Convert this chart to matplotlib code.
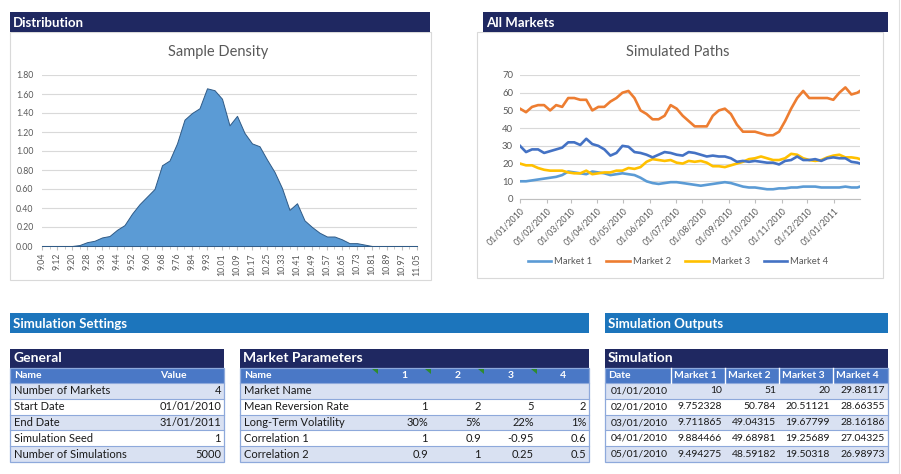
import matplotlib.pyplot as plt
import matplotlib.dates as mdates
from matplotlib.patches import Rectangle, Polygon
import pandas as pd

plt.rcParams['font.family'] = ['Lato', 'DejaVu Sans']

W, H = 901, 474

# ---- Sample Density (one value per half label step) ----
bin_labels = ['9.04', '9.12', '9.20', '9.28', '9.36', '9.44', '9.52', '9.60', '9.68',
              '9.76', '9.84', '9.93', '10.01', '10.09', '10.17', '10.25', '10.33',
              '10.41', '10.49', '10.57', '10.65', '10.73', '10.81', '10.89', '10.97', '11.05']
density = [0, 0, 0, 0, 0, 0.01, 0.04, 0.055, 0.09, 0.105,
           0.17, 0.22, 0.34, 0.44, 0.52, 0.60, 0.85, 0.90, 1.08, 1.33,
           1.40, 1.45, 1.66, 1.64, 1.55, 1.27, 1.37, 1.19, 1.08, 1.05,
           0.91, 0.78, 0.61, 0.38, 0.45, 0.27, 0.20, 0.14, 0.10, 0.10,
           0.07, 0.03, 0.03, 0.015, 0, 0, 0, 0, 0, 0, 0]

# ---- Simulated Paths (weekly readings) ----
path_dates = list(pd.date_range('2010-01-01', '2011-01-28', freq='7D')) + [pd.Timestamp('2011-01-31')]
market1 = [10, 10, 10.5, 11, 11.5, 12, 12.5, 13.5, 15.5, 15,
           14.5, 14, 15.5, 15, 14.5, 13.5, 14, 14.5, 14, 13.5,
           12, 10, 9, 8.5, 9, 9.5, 9.5, 9, 8.5, 8,
           7.5, 8, 8.5, 9, 9.5, 9, 8, 7, 6.5, 6.5,
           6, 5.5, 5.5, 6, 6, 6.5, 6.5, 7, 7, 7,
           6.5, 6.5, 6.5, 6.5, 7, 6.5, 6.5, 7]
market2 = [51, 49, 52, 53, 53, 50, 53, 52, 57, 57,
           56, 56, 50, 52, 52, 55, 57, 60, 61, 57,
           50, 48, 45, 45, 47, 53, 51, 47, 44, 41,
           41, 41, 47, 50, 51, 48, 42, 38, 38, 38,
           37, 36, 36, 38, 44, 51, 57, 61, 57, 57,
           57, 57, 56, 60, 63, 59, 60, 61]
market3 = [20, 19, 19, 17.5, 16.5, 16, 16, 16, 15, 14.5,
           14.5, 16, 14, 14.5, 15, 15, 16, 16, 17.5, 17,
           18, 21, 22.5, 22, 21.5, 22, 20.5, 20, 21.5, 21,
           21.5, 20.5, 18.5, 18.5, 18, 19, 20, 21, 22.5, 23,
           24, 23, 22, 22, 23, 25.5, 25, 23, 22, 21.5,
           22, 23.5, 24.5, 25, 23.5, 23.5, 23, 22.5]
market4 = [30, 26.5, 28, 28, 26, 27, 28, 29, 32, 32,
           30.5, 34, 31, 30, 28, 24.5, 26, 30, 29.5, 26.5,
           26, 25, 23.5, 25, 26.5, 26, 25, 24.5, 26.5, 26,
           25, 24, 24.5, 24, 24, 23, 21, 21.5, 21, 21.5,
           21, 20.5, 20.5, 19.5, 21.5, 22, 24, 22, 22, 22.5,
           21.5, 23, 23.5, 23, 23, 21, 20.5, 20]
market_names = ['Market 1', 'Market 2', 'Market 3', 'Market 4']
market_colors = ['#5B9BD5', '#ED7D31', '#FFC000', '#4472C4']

# ---- Tables ----
general_names = ['Number of Markets', 'Start Date', 'End Date', 'Simulation Seed', 'Number of Simulations']
general_values = ['4', '01/01/2010', '31/01/2011', '1', '5000']

param_cols = ['1', '2', '3', '4']
param_names = ['Market Name', 'Mean Reversion Rate', 'Long-Term Volatility', 'Correlation 1', 'Correlation 2']
param_values = [['', '', '', ''],
                ['1', '2', '5', '2'],
                ['30%', '5%', '22%', '1%'],
                ['1', '0.9', '-0.95', '0.6'],
                ['0.9', '1', '0.25', '0.5']]

sim_cols = ['Date', 'Market 1', 'Market 2', 'Market 3', 'Market 4']
sim_rows = [['01/01/2010', '10', '51', '20', '29.88117'],
            ['02/01/2010', '9.752328', '50.784', '20.51121', '28.66355'],
            ['03/01/2010', '9.711865', '49.04315', '19.67799', '28.16186'],
            ['04/01/2010', '9.884466', '49.68981', '19.25689', '27.04325'],
            ['05/01/2010', '9.494275', '48.59182', '19.50318', '26.98973']]

NAVY = '#1F2861'
BAR = '#1C75BC'
HEAD = '#4A78C6'
LIGHT = '#D9E1F2'
LINE = '#8EA9DB'
GREY = '#595959'
CELL = 8


def frac(x0, y0, x1, y1):
    return [x0 / W, 1 - y1 / H, (x1 - x0) / W, (y1 - y0) / H]


fig = plt.figure(figsize=(W / 100, H / 100), dpi=100)
bg = fig.add_axes([0, 0, 1, 1])
bg.set_xlim(0, W)
bg.set_ylim(H, 0)
bg.axis('off')


def box(x0, y0, x1, y1, fc, ec='none', lw=0.8):
    bg.add_patch(Rectangle((x0, y0), x1 - x0, y1 - y0, facecolor=fc, edgecolor=ec, linewidth=lw))


def txt(x, y, s, ha='left', size=CELL, color='#1A1A1A', weight='normal'):
    bg.text(x, y, s, ha=ha, va='center', fontsize=size, color=color, fontweight=weight)


# chart frames and headers
box(10, 32, 431, 280, 'white', '#D9D9D9')
box(477, 32, 883, 278, 'white', '#D9D9D9')
box(10, 12, 430, 32, NAVY)
txt(13, 22.5, 'Distribution', size=9.5, color='white', weight='bold')
box(483, 12, 888, 32, NAVY)
txt(486, 22.5, 'All Markets', size=9.5, color='white', weight='bold')
bg.plot([899, 899], [0, 474], color='#E0E0E0', lw=0.8)

# section bars
box(10, 313, 589, 333, BAR)
txt(13, 323.5, 'Simulation Settings', size=9.5, color='white', weight='bold')
box(605, 313, 888, 333, BAR)
txt(608, 323.5, 'Simulation Outputs', size=9.5, color='white', weight='bold')

row_top = 383
row_h = 15.8


def table_frame(x0, x1, title):
    box(x0, 349, x1, 368, NAVY)
    txt(x0 + 3, 358.5, title, size=10, color='white', weight='bold')
    box(x0, 368, x1, row_top, HEAD)
    for i in range(5):
        y0 = row_top + i * row_h
        box(x0, y0, x1, y0 + row_h, LIGHT if i % 2 == 0 else 'white')
        bg.plot([x0, x1], [y0, y0], color=LINE, lw=0.8)
    box(x0, 368, x1, row_top + 5 * row_h, 'none', LINE, 0.9)


# General
table_frame(10, 224, 'General')
txt(14, 376, 'Name', size=7.5, color='white', weight='bold')
txt(160, 376, 'Value', size=7.5, color='white', weight='bold')
for i, (n, v) in enumerate(zip(general_names, general_values)):
    yc = row_top + (i + 0.5) * row_h
    txt(14, yc, n)
    txt(221, yc, v, ha='right')

# Market Parameters
table_frame(240, 589, 'Market Parameters')
txt(244, 376, 'Name', size=7.5, color='white', weight='bold')
col_edges = [378, 431, 484, 537, 589]
for j, c in enumerate(param_cols):
    txt((col_edges[j] + col_edges[j + 1]) / 2, 376, c, ha='center', size=7.5, color='white', weight='bold')
for xe in col_edges[:4]:
    bg.add_patch(Polygon([(xe - 6, 368.5), (xe - 0.5, 368.5), (xe - 0.5, 374)], closed=True,
                         facecolor='#2E8B2E', edgecolor='none'))
for i, n in enumerate(param_names):
    yc = row_top + (i + 0.5) * row_h
    txt(244, yc, n)
    for j, v in enumerate(param_values[i]):
        txt(col_edges[j + 1] - 3, yc, v, ha='right')

# Simulation
table_frame(605, 888, 'Simulation')
sim_edges = [605, 671, 725, 779, 833, 888]
for j, c in enumerate(sim_cols):
    txt(sim_edges[j] + 3, 376, c, size=7.5, color='white', weight='bold')
    if j > 0:
        bg.plot([sim_edges[j], sim_edges[j]], [368, row_top], color='white', lw=1)
for i, r in enumerate(sim_rows):
    yc = row_top + (i + 0.5) * row_h
    for j, v in enumerate(r):
        txt(sim_edges[j + 1] - 3, yc, v, ha='right', size=7.5)

# ---- Sample Density chart ----
ax1 = fig.add_axes(frac(42, 75, 417, 246))
ax1.set_facecolor('none')
xs = list(range(len(density)))
ax1.fill_between(xs, density, 0, color='#5B9BD5', edgecolor='#2F5A86', linewidth=0.7, zorder=3)
ax1.set_xlim(0, len(density) - 1)
ax1.set_ylim(0, 1.8)
ax1.set_yticks([0.2 * k for k in range(10)])
ax1.set_yticklabels(['%.2f' % (0.2 * k) for k in range(10)])
ax1.set_xticks(xs[::2])
ax1.set_xticklabels(bin_labels, rotation=90)
ax1.set_xticks(xs[1::2], minor=True)
ax1.grid(axis='y', color='#D9D9D9', lw=0.8, zorder=0)
for s in ['left', 'right', 'top']:
    ax1.spines[s].set_visible(False)
ax1.spines['bottom'].set_color('#BFBFBF')
ax1.tick_params(axis='y', length=0, labelsize=6.3, labelcolor=GREY, pad=6)
ax1.tick_params(axis='x', which='major', length=3, color='#BFBFBF', labelsize=6.3, labelcolor=GREY, pad=2)
ax1.tick_params(axis='x', which='minor', length=2, color='#BFBFBF')
fig.text(218 / W, 1 - 52 / H, 'Sample Density', ha='center', va='center', fontsize=10.5, color=GREY)

# ---- Simulated Paths chart ----
ax2 = fig.add_axes(frac(520, 75, 860, 199))
ax2.set_facecolor('none')
handles = []
for vals, name, col in zip([market1, market2, market3, market4], market_names, market_colors):
    h, = ax2.plot(path_dates, vals, color=col, lw=1.9, label=name, zorder=3)
    handles.append(h)
ax2.set_xlim(pd.Timestamp('2010-01-01'), pd.Timestamp('2011-01-31'))
ax2.set_ylim(0, 70)
ax2.set_yticks(range(0, 71, 10))
ax2.xaxis.set_major_locator(mdates.MonthLocator())
ax2.xaxis.set_major_formatter(mdates.DateFormatter('%d/%m/%Y'))
for lab in ax2.get_xticklabels():
    lab.set_rotation(45)
    lab.set_ha('right')
    lab.set_rotation_mode('anchor')
ax2.grid(axis='y', color='#D9D9D9', lw=0.8, zorder=0)
for s in ['left', 'right', 'top']:
    ax2.spines[s].set_visible(False)
ax2.spines['bottom'].set_color('#BFBFBF')
ax2.tick_params(axis='y', length=0, labelsize=6.8, labelcolor=GREY, pad=5)
ax2.tick_params(axis='x', length=3, color='#BFBFBF', labelsize=6.3, labelcolor=GREY, pad=2)
fig.text(678 / W, 1 - 52 / H, 'Simulated Paths', ha='center', va='center', fontsize=10.5, color=GREY)
fig.legend(handles, market_names, loc='center', bbox_to_anchor=(678 / W, 1 - 262 / H), ncol=4,
           frameon=False, fontsize=6.8, handlelength=2.5, handletextpad=0.3, columnspacing=1.5,
           labelcolor=GREY)

fig.savefig('out.png', dpi=100)
